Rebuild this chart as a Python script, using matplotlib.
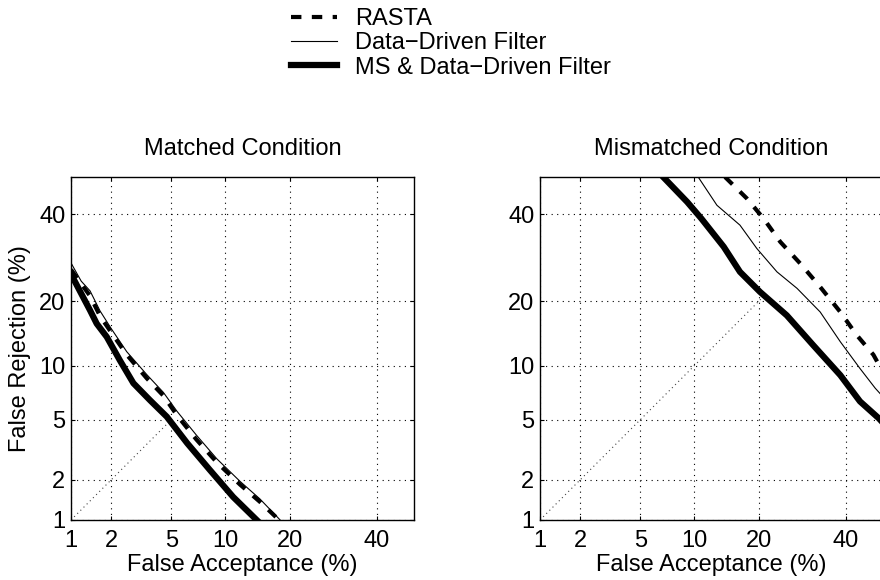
"""DET curves: matched vs mismatched condition"""

from statistics import NormalDist
import numpy as np
import matplotlib
matplotlib.use("Agg")
import matplotlib.pyplot as plt
from matplotlib.lines import Line2D

plt.rcParams["font.family"] = ["Liberation Sans", "DejaVu Sans"]
plt.rcParams["font.size"] = 17

# ---- data (False Acceptance %, False Rejection %) ----
matched_rasta_fa = [1.0, 1.4, 1.66, 2.0, 2.57, 3.5, 4.46, 5.4, 7.0, 9.05, 11.9, 14.8, 18.0]
matched_rasta_fr = [26.5, 21.0, 17.3, 14.6, 11.4, 8.6, 6.9, 5.3, 3.75, 2.65, 1.85, 1.38, 1.0]

matched_dd_fa = [1.0, 1.2, 1.4, 1.66, 2.0, 2.57, 3.5, 4.46, 5.4, 7.0, 9.05, 11.9, 14.8, 18.2]
matched_dd_fr = [28.0, 24.0, 22.0, 18.2, 15.2, 11.8, 9.0, 7.2, 5.6, 4.0, 2.8, 1.95, 1.45, 1.0]

matched_ms_fa = [1.0, 1.4, 1.57, 1.86, 2.3, 2.85, 3.67, 4.68, 6.2, 8.3, 11.0, 14.3]
matched_ms_fr = [25.5, 18.3, 16.0, 13.9, 10.7, 8.1, 6.5, 5.2, 3.55, 2.35, 1.5, 1.0]

mism_rasta_fa = [14.2, 17.8, 20.9, 24.3, 28.7, 33.5, 38.6, 42.9, 47.4, 49.2, 55.0]
mism_rasta_fr = [50.0, 44.2, 38.9, 33.0, 27.9, 22.8, 18.0, 14.2, 11.4, 9.9, 7.0]

mism_dd_fa = [10.5, 13.0, 16.6, 19.6, 23.6, 28.0, 33.5, 38.6, 43.8, 47.9, 49.2, 55.0]
mism_dd_fr = [50.0, 42.4, 37.2, 31.4, 26.0, 22.5, 18.0, 13.2, 9.7, 7.6, 7.1, 5.2]

mism_ms_fa = [6.8, 9.2, 10.9, 14.0, 16.6, 20.2, 25.7, 31.8, 38.6, 43.8, 48.8, 54.0]
mism_ms_fr = [50.0, 43.3, 38.9, 31.8, 26.0, 21.8, 17.4, 12.7, 8.95, 6.4, 5.1, 3.8]

# equal-error diagonal, drawn up to where it meets the curves
matched_diag = [1.0, 5.0]
mism_diag = [1.0, 20.5]

ticks = [1, 2, 5, 10, 20, 40]
tick_labels = ["1", "2", "5", "10", "20", "40"]

nd = NormalDist()
_ppf = np.vectorize(nd.inv_cdf, otypes=[float])
_cdf = np.vectorize(nd.cdf, otypes=[float])


def fwd(p):
    p = np.clip(np.asarray(p, dtype=float) / 100.0, 1e-9, 1 - 1e-9)
    return _ppf(p)


def inv(z):
    return _cdf(np.asarray(z, dtype=float)) * 100.0


def setup_axes(ax, title, diag):
    ax.set_xscale("function", functions=(fwd, inv))
    ax.set_yscale("function", functions=(fwd, inv))
    ax.set_xlim(1, 50)
    ax.set_ylim(1, 50)
    ax.set_xticks(ticks)
    ax.set_xticklabels(tick_labels)
    ax.set_yticks(ticks)
    ax.set_yticklabels(tick_labels)
    ax.minorticks_off()
    ax.tick_params(direction="in", length=3, width=0.8, top=True, right=True,
                   labelsize=17, pad=4)
    ax.tick_params(axis="x", pad=7)
    ax.grid(True, linestyle=(0, (1, 4)), color="black", linewidth=0.8)
    ax.plot(diag, diag, linestyle=(0, (1, 3)), color="#444444", linewidth=0.8)
    ax.set_title(title, fontsize=17, pad=16)
    ax.set_xlabel("False Acceptance (%)", fontsize=17, labelpad=2)
    for s in ax.spines.values():
        s.set_linewidth(1.0)


fig = plt.figure(figsize=(8.8, 5.8), dpi=100)
ax1 = fig.add_axes([71 / 880, 60 / 580, 343 / 880, 343 / 580])
ax2 = fig.add_axes([540 / 880, 60 / 580, 343 / 880, 343 / 580])

setup_axes(ax1, "Matched Condition", matched_diag)
setup_axes(ax2, "Mismatched Condition", mism_diag)
ax1.set_ylabel("False Rejection (%)", fontsize=17, labelpad=6)

dash = (0, (2.5, 2.5))
ax1.plot(matched_dd_fa, matched_dd_fr, color="black", linewidth=0.8)
ax1.plot(matched_rasta_fa, matched_rasta_fr, color="black", linewidth=3, linestyle=dash)
ax1.plot(matched_ms_fa, matched_ms_fr, color="black", linewidth=4.5)

ax2.plot(mism_dd_fa, mism_dd_fr, color="black", linewidth=0.8)
ax2.plot(mism_rasta_fa, mism_rasta_fr, color="black", linewidth=3, linestyle=dash)
ax2.plot(mism_ms_fa, mism_ms_fr, color="black", linewidth=4.5)

handles = [
    Line2D([], [], color="black", linewidth=3, linestyle=dash),
    Line2D([], [], color="black", linewidth=0.8),
    Line2D([], [], color="black", linewidth=4.5),
]
labels = ["RASTA", "Data\u2212Driven Filter", "MS & Data\u2212Driven Filter"]
fig.legend(handles, labels, loc="upper left", bbox_to_anchor=(291 / 880, 1 - 8 / 580),
           frameon=False, fontsize=17, handlelength=1.95, handletextpad=0.75,
           labelspacing=0.1, borderaxespad=0.0, borderpad=0.0)

fig.savefig("out.png", dpi=100)
